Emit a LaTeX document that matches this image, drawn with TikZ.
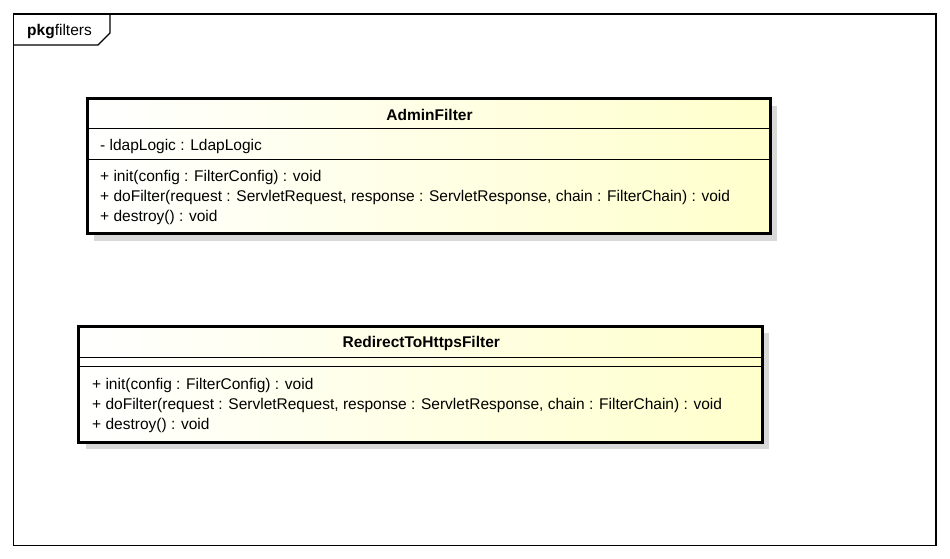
\documentclass[tikz,border=0pt]{standalone}
\usepackage{fontspec}
\setmainfont{Liberation Sans}
\usetikzlibrary{shadows}
\definecolor{cream}{RGB}{255,255,204}
\definecolor{shadowgray}{RGB}{216,216,216}
\tikzset{
  classbox/.style={draw=black, line width=3pt, left color=white, right color=cream, inner sep=0pt,
    drop shadow={shadow xshift=7pt, shadow yshift=-7pt, fill=shadowgray, opacity=1}},
  sep/.style={draw=black, line width=1pt},
  member/.style={anchor=west, inner sep=0pt, font=\fontsize{15.5}{18}\selectfont},
  title/.style={inner sep=0pt, font=\fontsize{15.5}{18}\selectfont\bfseries},
  frame/.style={draw=black, line width=1.2pt}
}
\begin{document}
\begin{tikzpicture}[x=1pt,y=-1pt]
\useasboundingbox (0,0) rectangle (950,558);
\fill[white] (0,0) rectangle (950,558);
% package frame
\draw[frame] (13.5,14) rectangle (936,545.5);
\draw[frame] (13.5,45) -- (98,45) -- (110,33) -- (110,14);
\node[anchor=west, inner sep=0pt, font=\fontsize{15.5}{18}\selectfont] (pkg) at (27,31.5) {\textbf{pkg}filters};
% AdminFilter
\node[classbox, minimum width=683pt, minimum height=135pt] (admin) at (428.5,166) {};
\coordinate (a1l) at (87,128); \coordinate (a1r) at (770,128);
\coordinate (a2l) at (87,159); \coordinate (a2r) at (770,159);
\draw[sep] (a1l) -- (a1r);
\draw[sep] (a2l) -- (a2r);
\node[title] (adminname) at (429.5,115) {AdminFilter};
\node[member] (aattr) at (100,146.5) {- ldapLogic : LdapLogic};
\node[member] (am1) at (100,177) {+ init(config : FilterConfig) : void};
\node[member] (am2) at (100,197) {+ doFilter(request : ServletRequest, response : ServletResponse, chain : FilterChain) : void};
\node[member] (am3) at (100,217) {+ destroy() : void};
% RedirectToHttpsFilter
\node[classbox, minimum width=683.5pt, minimum height=116pt] (redir) at (420.25,384) {};
\coordinate (r1l) at (78.5,357); \coordinate (r1r) at (762,357);
\coordinate (r2l) at (78.5,366.5); \coordinate (r2r) at (762,366.5);
\draw[sep] (r1l) -- (r1r);
\draw[sep] (r2l) -- (r2r);
\node[title] (redirname) at (421.25,343) {RedirectToHttpsFilter};
\node[member] (rm1) at (92,385) {+ init(config : FilterConfig) : void};
\node[member] (rm2) at (92,405) {+ doFilter(request : ServletRequest, response : ServletResponse, chain : FilterChain) : void};
\node[member] (rm3) at (92,425) {+ destroy() : void};
\end{tikzpicture}
\end{document}
